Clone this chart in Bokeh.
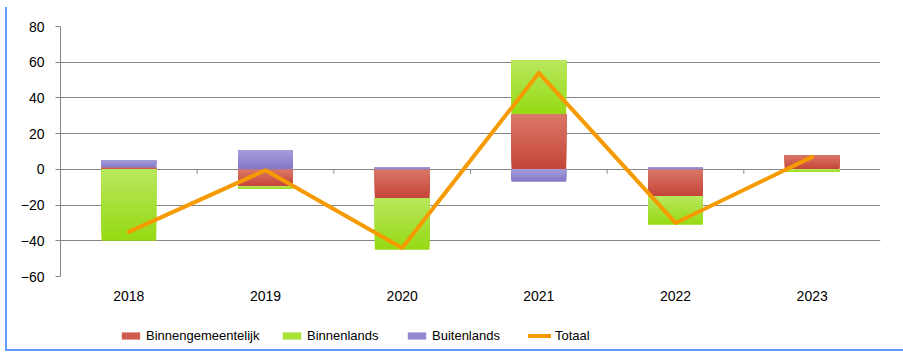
from bokeh.plotting import figure
from bokeh.layouts import column
from bokeh.models import Range1d, FixedTicker, Legend, LegendItem, ColumnDataSource
from bokeh.embed import file_html
from bokeh.resources import INLINE

# ---- data ----
years = ["2018", "2019", "2020", "2021", "2022", "2023"]
binnengemeentelijk = [1, -9.5, -16, 31, -15, 8]
binnenlands = [-40, -1.5, -29, 30, -16, -1.5]
buitenlands = [4, 10.5, 1, -7, 1, 0]
totaal = [-35, -0.5, -44, 54, -30, 7]
y_ticks = [-60, -40, -20, 0, 20, 40, 60, 80]

series_names = ["Binnengemeentelijk", "Binnenlands", "Buitenlands"]
series_values = [binnengemeentelijk, binnenlands, buitenlands]
light_cols = [(0xDA, 0x78, 0x68), (0xB8, 0xE7, 0x5E), (0xA4, 0x9D, 0xD9)]
dark_cols = [(0xC4, 0x44, 0x38), (0x96, 0xDA, 0x12), (0x84, 0x77, 0xC8)]
mid_cols = ["#D05C4E", "#A8E13A", "#9489D0"]
line_col = "#F59A00"

xs = list(range(len(years)))

p = figure(width=896, height=311, x_range=Range1d(-0.5, len(years) - 0.5),
           y_range=Range1d(-60, 80), output_backend="svg", toolbar_location=None,
           min_border_left=53, min_border_right=23, min_border_top=19,
           min_border_bottom=42)
p.outline_line_color = None

# stacking (positive up, negative down)
pos_base = [0.0] * len(years)
neg_base = [0.0] * len(years)
K = 14
for name, vals, lc, dc in zip(series_names, series_values, light_cols, dark_cols):
    bx, bb, bt, bc = [], [], [], []
    for i, v in enumerate(vals):
        if v >= 0:
            lo, hi = pos_base[i], pos_base[i] + v
            pos_base[i] = hi
        else:
            lo, hi = neg_base[i] + v, neg_base[i]
            neg_base[i] = lo
        if hi - lo <= 0:
            continue
        # overlapping slices (each reaches the segment top) -> vertical gradient
        for j in range(K):
            t = (j + 0.5) / K
            c = tuple(int(round(d + (l - d) * t)) for l, d in zip(lc, dc))
            bx.append(i)
            bb.append(lo + (hi - lo) * j / K)
            bt.append(hi)
            bc.append("#%02x%02x%02x" % c)
    src = ColumnDataSource(dict(x=bx, bottom=bb, top=bt, color=bc))
    p.vbar(x="x", bottom="bottom", top="top", width=0.4, fill_color="color",
           line_color=None, source=src)

# small category boundary ticks on the zero line
bx_ticks = [i + 0.5 for i in range(len(years) - 1)]
p.segment(x0=bx_ticks, y0=[0] * len(bx_ticks), x1=bx_ticks, y1=[-2.4] * len(bx_ticks),
          line_color="#868686", line_width=1)

p.line(xs, totaal, line_color=line_col, line_width=4, line_cap="round", line_join="round")

# axes
p.yaxis.ticker = FixedTicker(ticks=y_ticks)
p.yaxis.axis_line_color = "#868686"
p.yaxis.major_tick_line_color = "#868686"
p.yaxis.major_tick_out = 5
p.yaxis.major_tick_in = 0
p.yaxis.minor_tick_line_color = None
p.yaxis.major_label_standoff = 11
p.yaxis.major_label_text_font = "Liberation Sans"
p.yaxis.major_label_text_font_size = "14px"
p.yaxis.major_label_text_color = "#000000"

p.xaxis.ticker = FixedTicker(ticks=xs)
p.xaxis.major_label_overrides = {i: y for i, y in enumerate(years)}
p.xaxis.axis_line_color = None
p.xaxis.major_tick_line_color = None
p.xaxis.minor_tick_line_color = None
p.xaxis.major_tick_out = 0
p.xaxis.major_tick_in = 0
p.xaxis.major_label_standoff = 14
p.xaxis.major_label_text_font = "Liberation Sans"
p.xaxis.major_label_text_font_size = "14px"
p.xaxis.major_label_text_color = "#000000"

p.xgrid.grid_line_color = None
p.ygrid.ticker = FixedTicker(ticks=y_ticks)
p.ygrid.grid_line_color = "#868686"
p.ygrid.grid_line_width = 1

# ---- legend strip (one legend per entry, placed like the original) ----
pl = figure(width=896, height=31, x_range=Range1d(0, 1), y_range=Range1d(0, 1),
            output_backend="svg", toolbar_location=None, min_border=0,
            x_axis_location=None, y_axis_location=None)
pl.outline_line_color = None
pl.xgrid.grid_line_color = None
pl.ygrid.grid_line_color = None
items = []
for name, mc in zip(series_names, mid_cols):
    r = pl.vbar(x=[-5], bottom=[-6], top=[-5], width=0.4, fill_color=mc, line_color=None)
    items.append(LegendItem(label=name, renderers=[r]))
rl = pl.line(x=[-5, -4], y=[-5, -5], line_color=line_col, line_width=4, line_cap="round")
items.append(LegendItem(label="Totaal", renderers=[rl]))
legend_x = [59, 220, 345, 468]
for it, lx in zip(items, legend_x):
    lg = Legend(items=[it], orientation="horizontal", location=(lx, 6),
                glyph_width=23, glyph_height=9, label_standoff=4, spacing=0,
                padding=0, margin=0, border_line_color=None, background_fill_alpha=0,
                label_text_font="Liberation Sans", label_text_font_size="13px",
                label_text_color="#000000", label_height=9)
    pl.add_layout(lg, "center")

layout = column(p, pl, spacing=0)
layout.styles = {"margin-left": "5px", "margin-top": "7px",
                 "border-left": "2px solid #5E9CFF", "border-bottom": "2px solid #5E9CFF"}

open("out.html", "w").write(file_html(layout, INLINE))
